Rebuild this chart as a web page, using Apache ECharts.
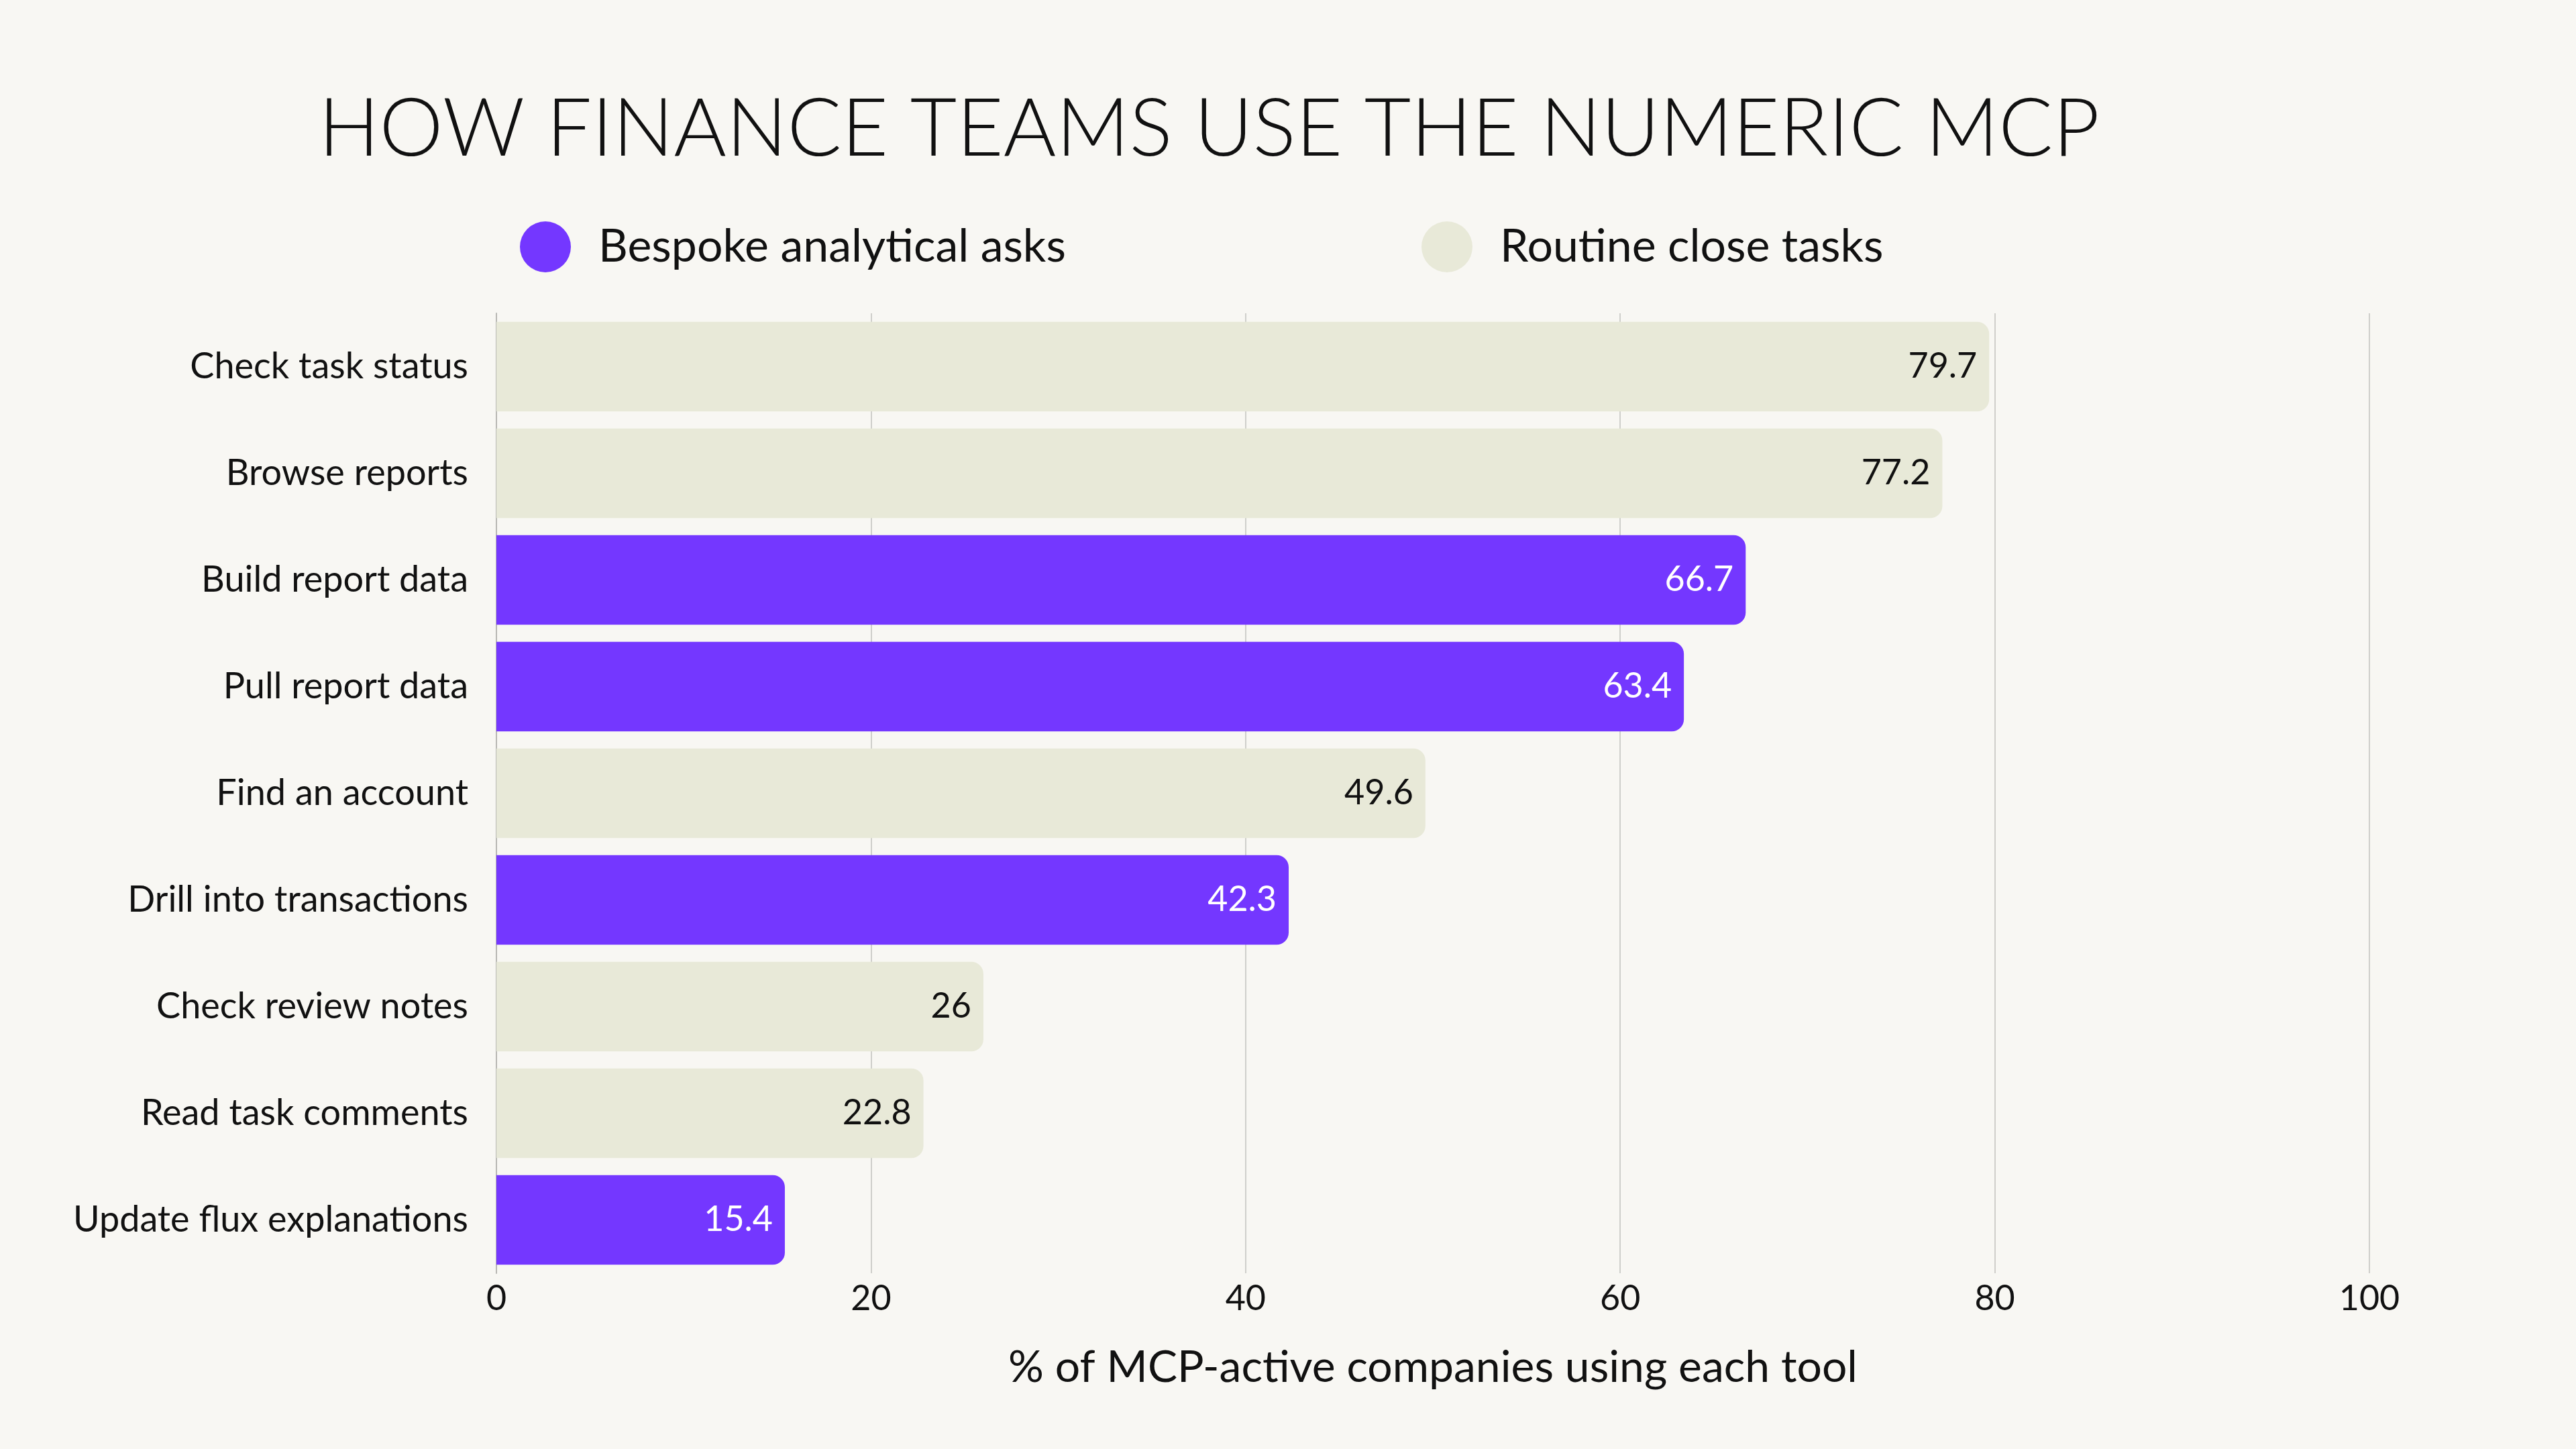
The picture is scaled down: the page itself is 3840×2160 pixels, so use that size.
<!DOCTYPE html>
<html>
<head>
<meta charset="utf-8">
<title>How finance teams use the Numeric MCP</title>
<script src="https://cdn.jsdelivr.net/npm/echarts@6/dist/echarts.min.js"></script>
<style>
  html, body { margin: 0; padding: 0; background: #f8f7f3; }
  #chart { width: 3840px; height: 2160px; }
</style>
</head>
<body>
<div id="chart"></div>
<script>
// tools, top to bottom
const categories = [
  'Check task status', 'Browse reports', 'Build report data', 'Pull report data',
  'Find an account', 'Drill into transactions', 'Check review notes',
  'Read task comments', 'Update flux explanations'
];
// '-' where the tool belongs to the other group
const bespoke = ['-', '-', 66.7, 63.4, '-', 42.3, '-', '-', 15.4];
const routine = [79.7, 77.2, '-', '-', 49.6, '-', 26, 22.8, '-'];
const xTicks = [0, 20, 40, 60, 80, 100];

const FONT = 'Lato';
const PURPLE = '#7437ff';
const BEIGE = '#e8e9d8';

const chart = echarts.init(document.getElementById('chart'));

chart.setOption({
  animation: false,
  backgroundColor: '#f8f7f3',
  textStyle: { fontFamily: FONT, color: '#111' },
  title: {
    text: 'HOW FINANCE TEAMS USE THE NUMERIC MCP',
    left: 470,
    top: 128,
    textStyle: { fontFamily: FONT, fontSize: 120, fontWeight: 300, color: '#111' }
  },
  legend: [
    {
      data: ['Bespoke analytical asks'],
      left: 770,
      top: 325,
      icon: 'circle',
      itemWidth: 76,
      itemHeight: 76,
      itemGap: 0,
      textStyle: { fontFamily: FONT, fontSize: 68, color: '#111', padding: [0, 0, 0, 36] }
    },
    {
      data: ['Routine close tasks'],
      left: 2114,
      top: 325,
      icon: 'circle',
      itemWidth: 76,
      itemHeight: 76,
      itemGap: 0,
      textStyle: { fontFamily: FONT, fontSize: 68, color: '#111', padding: [0, 0, 0, 36] }
    }
  ],
  grid: { left: 740, right: 308, top: 467, bottom: 262, containLabel: false },
  xAxis: {
    type: 'value',
    min: xTicks[0],
    max: xTicks[xTicks.length - 1],
    interval: 20,
    name: '% of MCP-active companies using each tool',
    nameLocation: 'middle',
    nameGap: 108,
    nameTextStyle: { fontFamily: FONT, fontSize: 66, color: '#111' },
    axisLine: { show: false },
    axisTick: { show: false },
    axisLabel: { fontFamily: FONT, fontSize: 52, color: '#111', margin: 12 },
    splitLine: { show: true, lineStyle: { color: '#cfcfcb', width: 2 } }
  },
  yAxis: {
    type: 'category',
    inverse: true,
    data: categories,
    axisLine: { show: true, lineStyle: { color: '#b8b8b4', width: 2 } },
    axisTick: { show: false },
    axisLabel: { fontFamily: FONT, fontSize: 54, color: '#111', margin: 42 }
  },
  series: [
    {
      name: 'Bespoke analytical asks',
      type: 'bar',
      stack: 'all',
      data: bespoke,
      barCategoryGap: '16%',
      itemStyle: { color: PURPLE, borderRadius: [0, 18, 18, 0] },
      label: {
        show: true,
        position: 'insideRight',
        distance: 18,
        fontFamily: FONT,
        fontSize: 52,
        color: '#ffffff'
      }
    },
    {
      name: 'Routine close tasks',
      type: 'bar',
      stack: 'all',
      data: routine,
      barCategoryGap: '16%',
      itemStyle: { color: BEIGE, borderRadius: [0, 18, 18, 0] },
      label: {
        show: true,
        position: 'insideRight',
        distance: 18,
        fontFamily: FONT,
        fontSize: 52,
        color: '#111'
      }
    }
  ]
});
</script>
</body>
</html>
